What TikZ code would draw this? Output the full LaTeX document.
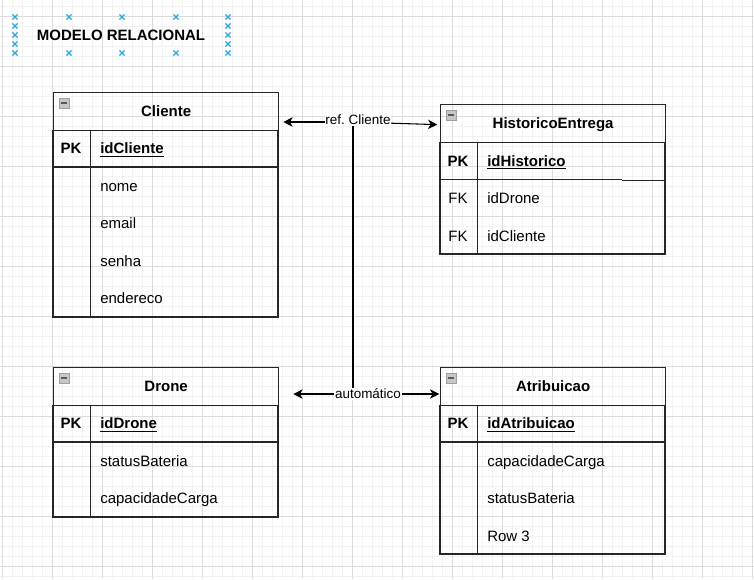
\documentclass[tikz,border=0pt]{standalone}
\usepackage{fontspec}
\setmainfont{Liberation Sans}
\usetikzlibrary{arrows.meta}
\definecolor{gridminor}{HTML}{F2F2F2}
\definecolor{gridmajor}{HTML}{DCDCDC}
\definecolor{markblue}{HTML}{2BA6DE}
\definecolor{tline}{HTML}{262626}
\newcommand\rowfont{\fontsize{11.25}{13.5}\selectfont}
\newcommand\lblfont{\fontsize{10.1}{12}\selectfont}
\newcommand\erow[4]{\node[rowtxt] (#1) at (#2,#3+5.4) {#4};}
\tikzset{
  minorline/.style={gridminor, line width=0.5pt},
  majorline/.style={gridmajor, line width=0.6pt},
  tbl/.style={tline, line width=0.95pt},
  hdr/.style={draw=tline, line width=0.95pt, anchor=north west, minimum width=168.75pt, minimum height=28.125pt, inner sep=0pt, text height=8pt, text depth=0pt, font=\rowfont\bfseries},
  rowtxt/.style={anchor=base west, inner sep=0pt, font=\rowfont},
  keytxt/.style={anchor=base, inner sep=0pt, font=\rowfont},
  mini/.style={draw=gray!75, fill=gray!45, minimum size=7.2pt, inner sep=0pt,
    path picture={\draw[black!65, line width=1pt] ([xshift=1.6pt]path picture bounding box.west) -- ([xshift=-1.6pt]path picture bounding box.east);}},
  conn/.style={black, line width=0.8pt},
  arr/.style={conn, -{Stealth[length=7pt, width=7pt, inset=2pt]}},
  lbl/.style={fill=white, inner sep=0.6pt, font=\lblfont},
  xmark/.style={markblue, line width=0.9pt}
}
\begin{document}
\frenchspacing
\begin{tikzpicture}[x=0.75pt, y=-0.75pt]
\useasboundingbox (0,0) rectangle (754,579);
\fill[white] (0,0) rectangle (754,579);
% grid
\foreach \x in {2,12,...,752} \draw[minorline] (\x,0) -- (\x,579);
\foreach \y in {6,16,...,576} \draw[minorline] (0,\y) -- (754,\y);
\foreach \x in {2,52,...,752} \draw[majorline] (\x,0) -- (\x,579);
\foreach \y in {16,66,...,566} \draw[majorline] (0,\y) -- (754,\y);

% title and selection marks
\node[font=\rowfont\bfseries, inner sep=0pt] (title) at (121,35) {MODELO RELACIONAL};
\foreach \px/\py in {15/17,15/26,15/35,15/44,15/53,228/17,228/26,228/35,228/44,228/53,69/17,122/17,176/17,69/53,122/53,176/53}
  \draw[xmark] (\px-2.6,\py-2.6) -- (\px+2.6,\py+2.6) (\px-2.6,\py+2.6) -- (\px+2.6,\py-2.6);

% ---------- Cliente ----------
\node[hdr] (cli) at (53,92) {Cliente};
\node[mini] (mcli) at (64,103) {};
\draw[tbl] (cli.south west) rectangle (278,317);
\draw[tbl] (53,167) -- (278,167);
\draw[tbl] (90.5,130) -- (90.5,317);
\node[keytxt, font=\rowfont\bfseries] (clipk) at (71,148.5+5.4) {PK};
\erow{clik}{100}{148.5}{\textbf{\underline{idCliente}}}
\erow{clia}{100}{186}{nome}
\erow{clib}{100}{223.5}{email}
\erow{clic}{100}{261}{senha}
\erow{clid}{100}{298.5}{endereco}

% ---------- HistoricoEntrega ----------
\node[hdr] (his) at (440,104) {HistoricoEntrega};
\node[mini] (mhis) at (451,115) {};
\draw[tbl] (his.south west) rectangle (665,254);
\draw[tbl] (440,179.5) -- (622,179.5);
\draw[tbl] (622,180.5) -- (665,180.5);
\draw[tbl] (477.5,142) -- (477.5,254);
\node[keytxt, font=\rowfont\bfseries] (hispk) at (458,161+5.4) {PK};
\erow{hisk}{487}{161}{\textbf{\underline{idHistorico}}}
\node[keytxt] (hisfa) at (458,198.5+5.4) {FK};
\erow{hisa}{487}{198.5}{idDrone}
\node[keytxt] (hisfb) at (458,236+5.4) {FK};
\erow{hisb}{487}{236}{idCliente}

% ---------- Drone ----------
\node[hdr] (dro) at (53,367) {Drone};
\node[mini] (mdro) at (64,378) {};
\draw[tbl] (dro.south west) rectangle (278,517);
\draw[tbl] (53,442) -- (278,442);
\draw[tbl] (90.5,405) -- (90.5,517);
\node[keytxt, font=\rowfont\bfseries] (dropk) at (71,423.5+5.4) {PK};
\erow{drok}{100}{423.5}{\textbf{\underline{idDrone}}}
\erow{droa}{100}{461}{statusBateria}
\erow{drob}{100}{498.5}{capacidadeCarga}

% ---------- Atribuicao ----------
\node[hdr] (atr) at (440,367) {Atribuicao};
\node[mini] (matr) at (451,378) {};
\draw[tbl] (atr.south west) rectangle (665,554);
\draw[tbl] (440,442) -- (665,442);
\draw[tbl] (477.5,405) -- (477.5,554);
\node[keytxt, font=\rowfont\bfseries] (atrpk) at (458,423.5+5.4) {PK};
\erow{atrk}{487}{423.5}{\textbf{\underline{idAtribuicao}}}
\erow{atra}{487}{461}{capacidadeCarga}
\erow{atrb}{487}{498.5}{statusBateria}
\erow{atrc}{487}{536}{Row 3}

% ---------- connectors ----------
\coordinate (j1) at (353,122);
\coordinate (j2) at (353,394);
\draw[conn] (j1) -- (j2);
\draw[arr, shorten >=3pt] (j1) -- (j1 -| cli.east);
\draw[arr, shorten >=2pt] (j1) -- ([yshift=-1pt]his.west);
\draw[arr, shorten >=10.5pt] (j2) -- (j2 -| dro.east);
\draw[arr, shorten >=0.5pt] (j2) -- (j2 -| atr.west);
\node[lbl] (lref) at (358,120) {ref. Cliente};
\node[lbl] (lauto) at (368,394) {automático};
\end{tikzpicture}
\end{document}
